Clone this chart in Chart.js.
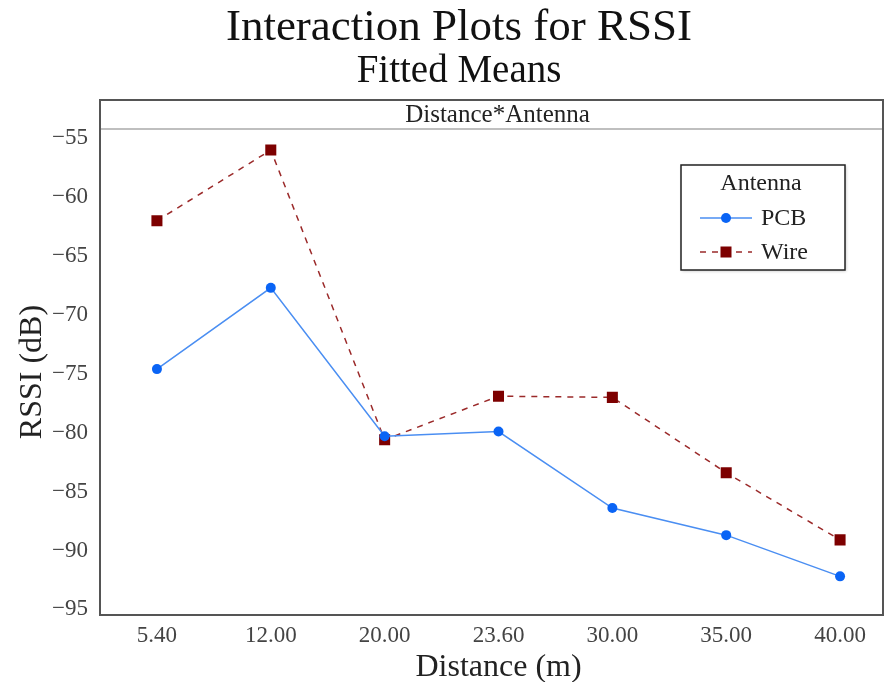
<!DOCTYPE html>
<html>
<head>
<meta charset="utf-8">
<script src="https://cdn.jsdelivr.net/npm/chart.js@4"></script>
<style>
  html, body { margin: 0; padding: 0; background: #fff; overflow: hidden; }
  #wrap { width: 900px; height: 682px; position: relative; }
</style>
</head>
<body>
<div id="wrap"><canvas id="chart"></canvas></div>
<script>
const distances = ['5.40', '12.00', '20.00', '23.60', '30.00', '35.00', '40.00'];
const pcbMeans = [-74.6, -67.7, -80.3, -79.9, -86.4, -88.7, -92.2];
const wireMeans = [-62.0, -56.0, -80.6, -76.9, -77.0, -83.4, -89.1];
const yTicks = [-95, -90, -85, -80, -75, -70, -65, -60, -55];

const serif = "'Liberation Serif', 'DejaVu Serif', serif";
const stripHeight = 29;
const frameRight = 883;

// titles, panel frame, strip header and boxed legend
const framePlugin = {
    id: 'frame',
    afterDraw(chart) {
        const ctx = chart.ctx;
        const a = chart.chartArea;
        const top = a.top - stripHeight;
        ctx.save();

        ctx.fillStyle = '#111';
        ctx.textAlign = 'center';
        ctx.textBaseline = 'alphabetic';
        ctx.font = '45px ' + serif;
        ctx.fillText('Interaction Plots for RSSI', 459, 40);
        ctx.font = '39px ' + serif;
        ctx.fillText('Fitted Means', 459, 82);

        ctx.strokeStyle = '#aaa';
        ctx.lineWidth = 1.5;
        ctx.beginPath();
        ctx.moveTo(a.left, a.top);
        ctx.lineTo(frameRight, a.top);
        ctx.stroke();
        ctx.fillStyle = '#222';
        ctx.font = '25px ' + serif;
        ctx.fillText('Distance*Antenna', (a.left + frameRight) / 2 + 6, top + 22);

        ctx.strokeStyle = '#555';
        ctx.lineWidth = 2;
        ctx.strokeRect(a.left, top, frameRight - a.left, a.bottom - top);

        // legend box
        const bx = 681, by = 165, bw = 164, bh = 105;
        ctx.fillStyle = '#fff';
        ctx.shadowColor = 'rgba(0,0,0,0.25)';
        ctx.shadowBlur = 3;
        ctx.shadowOffsetX = 1;
        ctx.shadowOffsetY = 1;
        ctx.fillRect(bx, by, bw, bh);
        ctx.shadowColor = 'transparent';
        ctx.strokeStyle = '#222';
        ctx.lineWidth = 1.5;
        ctx.strokeRect(bx, by, bw, bh);
        ctx.fillStyle = '#222';
        ctx.font = '24px ' + serif;
        ctx.textBaseline = 'middle';
        ctx.fillText('Antenna', bx + bw / 2 - 2, by + 19);

        chart.data.datasets.forEach((ds, i) => {
            const ry = by + 53 + i * 34;
            ctx.strokeStyle = ds.borderColor;
            ctx.lineWidth = 1.5;
            ctx.setLineDash(ds.borderDash || []);
            ctx.beginPath();
            ctx.moveTo(bx + 19, ry);
            ctx.lineTo(bx + 71, ry);
            ctx.stroke();
            ctx.setLineDash([]);
            ctx.fillStyle = ds.pointBackgroundColor;
            if (ds.pointStyle === 'rect') {
                ctx.fillRect(bx + 45 - 5.5, ry - 5.5, 11, 11);
            } else {
                ctx.beginPath();
                ctx.arc(bx + 45, ry, 5, 0, Math.PI * 2);
                ctx.fill();
            }
            ctx.fillStyle = '#222';
            ctx.textAlign = 'left';
            ctx.fillText(ds.label, bx + 80, ry + 1);
            ctx.textAlign = 'center';
        });
        ctx.restore();
    }
};

const ctx = document.getElementById('chart').getContext('2d');
new Chart(ctx, {
    type: 'line',
    data: {
        labels: distances,
        datasets: [
            {
                label: 'PCB',
                data: pcbMeans,
                borderColor: '#4a8ef2',
                borderWidth: 1.5,
                pointStyle: 'circle',
                pointRadius: 5,
                pointBackgroundColor: '#0a64f5',
                pointBorderWidth: 0
            },
            {
                label: 'Wire',
                data: wireMeans,
                borderColor: '#9b2a2a',
                borderWidth: 1.5,
                borderDash: [6, 6],
                pointStyle: 'rect',
                pointRadius: 7.8,
                pointBackgroundColor: '#7d0000',
                pointBorderWidth: 0
            }
        ]
    },
    options: {
        responsive: true,
        maintainAspectRatio: false,
        animation: false,
        layout: { autoPadding: false, padding: { top: 129, right: 3, left: 0, bottom: 0 } },
        plugins: {
            legend: { display: false },
            title: { display: false },
            tooltip: { enabled: false }
        },
        scales: {
            x: {
                offset: true,
                grid: { display: false },
                border: { display: false },
                ticks: {
                    color: '#444',
                    padding: -1,
                    font: { family: serif, size: 23 }
                },
                title: {
                    display: true,
                    text: 'Distance (m)',
                    color: '#222',
                    font: { family: serif, size: 32, lineHeight: 1 },
                    padding: { top: 0, bottom: -2 }
                },
                afterFit(scale) { scale.height = 67; }
            },
            y: {
                min: -95.48,
                max: -54.21,
                grid: { display: false },
                border: { display: false },
                afterBuildTicks(scale) {
                    scale.ticks = yTicks.map((v) => ({ value: v }));
                },
                ticks: {
                    color: '#444',
                    padding: 4,
                    font: { family: serif, size: 23 },
                    callback: (v) => '\u2212' + Math.abs(v)
                },
                title: {
                    display: true,
                    text: 'RSSI (dB)',
                    color: '#222',
                    font: { family: serif, size: 32 },
                    padding: { top: 13, bottom: 0 }
                },
                afterFit(scale) { scale.width = 100; }
            }
        }
    },
    plugins: [framePlugin]
});
</script>
</body>
</html>
